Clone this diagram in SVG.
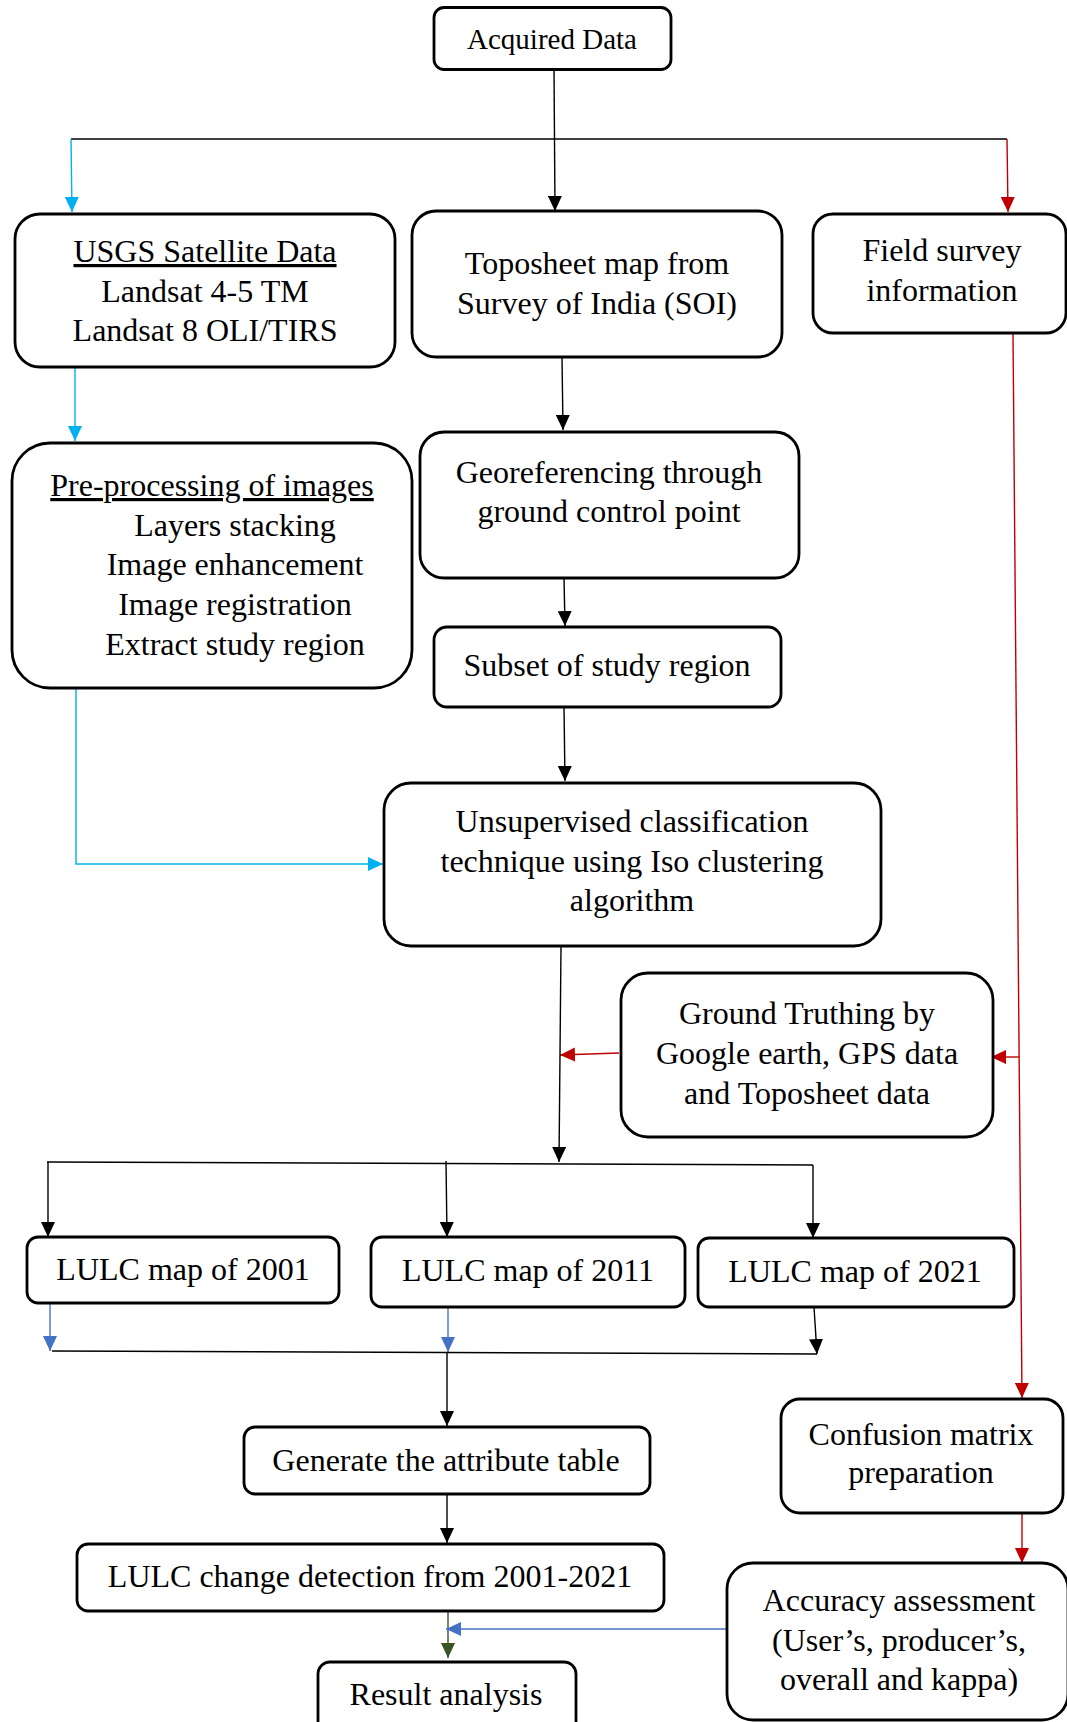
<svg xmlns="http://www.w3.org/2000/svg" width="1067" height="1722" viewBox="0 0 1067 1722">
  <style>
    .box { fill: #ffffff; stroke: #000000; stroke-width: 2.8; }
    .t { font-family: "Liberation Serif", "Times New Roman", serif; font-size: 32px; text-anchor: middle; fill: #000000; }
    .u { text-decoration: underline; }
    .c { fill: none; stroke-width: 1.4; }
    .k { stroke: #000000; }
    .cy { stroke: #00B0F0; }
    .rd { stroke: #C00000; }
    .bl { stroke: #4472C4; }
    .gr { stroke: #375623; }
  </style>
  <defs>
    <marker id="ak" markerUnits="userSpaceOnUse" markerWidth="15" markerHeight="14" refX="15" refY="7" orient="auto">
      <path d="M0,0 L15,7 L0,14 Z" fill="#000000"/>
    </marker>
    <marker id="acy" markerUnits="userSpaceOnUse" markerWidth="15" markerHeight="14" refX="15" refY="7" orient="auto">
      <path d="M0,0 L15,7 L0,14 Z" fill="#00B0F0"/>
    </marker>
    <marker id="ard" markerUnits="userSpaceOnUse" markerWidth="15" markerHeight="14" refX="15" refY="7" orient="auto">
      <path d="M0,0 L15,7 L0,14 Z" fill="#C00000"/>
    </marker>
    <marker id="abl" markerUnits="userSpaceOnUse" markerWidth="15" markerHeight="14" refX="15" refY="7" orient="auto">
      <path d="M0,0 L15,7 L0,14 Z" fill="#4472C4"/>
    </marker>
    <marker id="agr" markerUnits="userSpaceOnUse" markerWidth="15" markerHeight="14" refX="15" refY="7" orient="auto">
      <path d="M0,0 L15,7 L0,14 Z" fill="#375623"/>
    </marker>
  </defs>

  <!-- connectors -->
  <g id="connectors">
    <line class="c k" x1="554" y1="69" x2="555" y2="211" marker-end="url(#ak)"/>
    <line class="c k" x1="71" y1="139" x2="1007" y2="139"/>
    <line class="c cy" x1="71" y1="139" x2="72" y2="212" marker-end="url(#acy)"/>
    <line class="c rd" x1="1007" y1="139" x2="1008" y2="212" marker-end="url(#ard)"/>
    <line class="c cy" x1="75" y1="367" x2="75" y2="441" marker-end="url(#acy)"/>
    <line class="c k" x1="562" y1="357" x2="563" y2="430" marker-end="url(#ak)"/>
    <line class="c k" x1="564" y1="578" x2="565" y2="626" marker-end="url(#ak)"/>
    <line class="c k" x1="564" y1="707" x2="565" y2="781" marker-end="url(#ak)"/>
    <polyline class="c cy" points="64,688 76,688 76,864 383,864" marker-end="url(#acy)"/>
    <line class="c rd" x1="1013" y1="333" x2="1022" y2="1398" marker-end="url(#ard)"/>
    <line class="c rd" x1="1019" y1="1057" x2="991" y2="1057" marker-end="url(#ard)"/>
    <line class="c rd" x1="619" y1="1053" x2="560" y2="1055" marker-end="url(#ard)"/>
    <line class="c k" x1="561" y1="947" x2="559" y2="1162" marker-end="url(#ak)"/>
    <line class="c k" x1="47" y1="1162" x2="813" y2="1165"/>
    <line class="c k" x1="48" y1="1162" x2="48" y2="1237" marker-end="url(#ak)"/>
    <line class="c k" x1="446" y1="1161" x2="447" y2="1237" marker-end="url(#ak)"/>
    <line class="c k" x1="813" y1="1165" x2="813" y2="1238" marker-end="url(#ak)"/>
    <line class="c bl" x1="50" y1="1303" x2="50" y2="1351" marker-end="url(#abl)"/>
    <line class="c bl" x1="448" y1="1307" x2="448" y2="1352" marker-end="url(#abl)"/>
    <line class="c k" x1="814" y1="1307" x2="817" y2="1354" marker-end="url(#ak)"/>
    <line class="c k" x1="52" y1="1351" x2="817" y2="1354"/>
    <line class="c k" x1="447" y1="1352" x2="447" y2="1426" marker-end="url(#ak)"/>
    <line class="c k" x1="447" y1="1494" x2="447" y2="1543" marker-end="url(#ak)"/>
    <line class="c gr" x1="448" y1="1609" x2="448" y2="1658" marker-end="url(#agr)"/>
    <line class="c bl" x1="727" y1="1629" x2="446" y2="1629" marker-end="url(#abl)"/>
    <line class="c rd" x1="1022" y1="1514" x2="1022" y2="1563" marker-end="url(#ard)"/>
  </g>

  <!-- nodes -->
  <g id="acquired">
    <rect class="box" x="434" y="7.5" width="237" height="62" rx="10"/>
    <text class="t" x="552" y="49" style="font-size:29px">Acquired Data</text>
  </g>
  <g id="usgs">
    <rect class="box" x="15" y="214" width="380" height="153" rx="25"/>
    <text class="t u" x="205" y="262">USGS Satellite Data</text>
    <text class="t" x="205" y="302">Landsat 4-5 TM</text>
    <text class="t" x="205" y="341">Landsat 8 OLI/TIRS</text>
  </g>
  <g id="toposheet">
    <rect class="box" x="412" y="211" width="370" height="146" rx="24"/>
    <text class="t" x="597" y="274">Toposheet map from</text>
    <text class="t" x="597" y="314">Survey of India (SOI)</text>
  </g>
  <g id="field-survey">
    <rect class="box" x="813" y="214" width="253" height="119" rx="20"/>
    <text class="t" x="942" y="261">Field survey</text>
    <text class="t" x="942" y="301">information</text>
  </g>
  <g id="preprocessing">
    <rect class="box" x="12" y="443" width="400" height="245" rx="38"/>
    <text class="t u" x="212" y="496">Pre-processing of images</text>
    <text class="t" x="235" y="536">Layers stacking</text>
    <text class="t" x="235" y="575">Image enhancement</text>
    <text class="t" x="235" y="615">Image registration</text>
    <text class="t" x="235" y="655">Extract study region</text>
  </g>
  <g id="georeferencing">
    <rect class="box" x="420" y="432" width="379" height="146" rx="24"/>
    <text class="t" x="609" y="483">Georeferencing through</text>
    <text class="t" x="609" y="522">ground control point</text>
  </g>
  <g id="subset">
    <rect class="box" x="434" y="627" width="347" height="80" rx="13"/>
    <text class="t" x="607" y="676">Subset of study region</text>
  </g>
  <g id="unsupervised">
    <rect class="box" x="384" y="783" width="497" height="163" rx="27"/>
    <text class="t" x="632" y="832">Unsupervised classification</text>
    <text class="t" x="632" y="872">technique using Iso clustering</text>
    <text class="t" x="632" y="911">algorithm</text>
  </g>
  <g id="ground-truthing">
    <rect class="box" x="621" y="973" width="372" height="164" rx="27"/>
    <text class="t" x="807" y="1024">Ground Truthing by</text>
    <text class="t" x="807" y="1064">Google earth, GPS data</text>
    <text class="t" x="807" y="1104">and Toposheet data</text>
  </g>
  <g id="lulc-2001">
    <rect class="box" x="27" y="1237" width="312" height="66" rx="11"/>
    <text class="t" x="183" y="1280">LULC map of 2001</text>
  </g>
  <g id="lulc-2011">
    <rect class="box" x="371" y="1237" width="314" height="70" rx="11"/>
    <text class="t" x="528" y="1281">LULC map of 2011</text>
  </g>
  <g id="lulc-2021">
    <rect class="box" x="698" y="1238" width="316" height="69" rx="11"/>
    <text class="t" x="855" y="1282">LULC map of 2021</text>
  </g>
  <g id="attribute-table">
    <rect class="box" x="244" y="1427" width="406" height="67" rx="11"/>
    <text class="t" x="446" y="1471">Generate the attribute table</text>
  </g>
  <g id="change-detection">
    <rect class="box" x="77" y="1544" width="587" height="67" rx="11"/>
    <text class="t" x="370" y="1587">LULC change detection from 2001-2021</text>
  </g>
  <g id="result-analysis">
    <rect class="box" x="318" y="1662" width="258" height="80" rx="12"/>
    <text class="t" x="446" y="1705">Result analysis</text>
  </g>
  <g id="confusion-matrix">
    <rect class="box" x="781" y="1399" width="282" height="114" rx="19"/>
    <text class="t" x="921" y="1445">Confusion matrix</text>
    <text class="t" x="921" y="1483">preparation</text>
  </g>
  <g id="accuracy-assessment">
    <rect class="box" x="727" y="1563" width="341" height="157" rx="26"/>
    <text class="t" x="899" y="1611">Accuracy assessment</text>
    <text class="t" x="899" y="1651">(User’s, producer’s,</text>
    <text class="t" x="899" y="1690">overall and kappa)</text>
  </g>
</svg>
